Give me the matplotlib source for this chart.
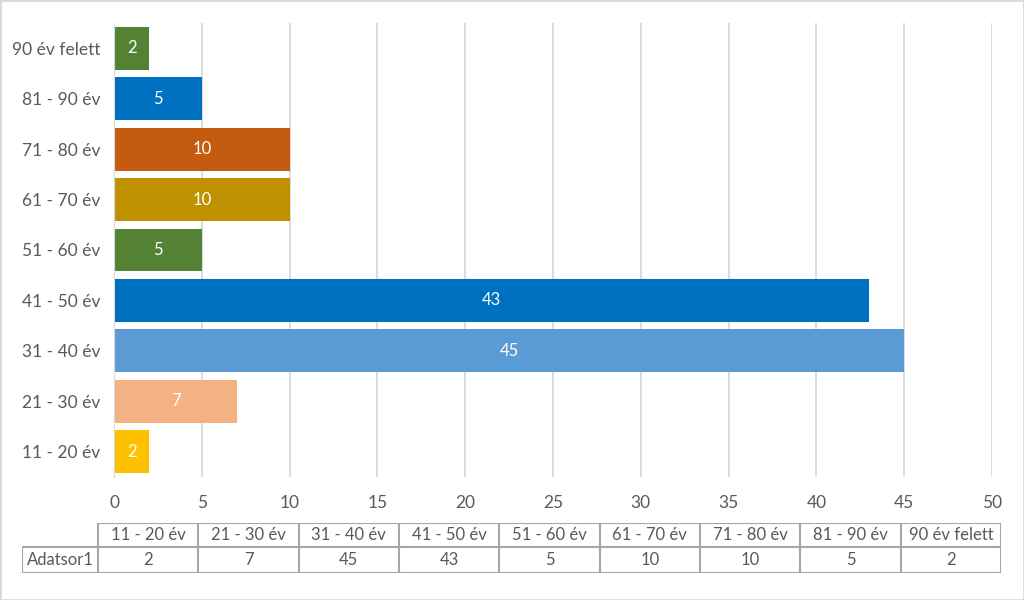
import matplotlib.pyplot as plt
from matplotlib.patches import Rectangle

categories = ["11 - 20 év", "21 - 30 év", "31 - 40 év", "41 - 50 év", "51 - 60 év",
              "61 - 70 év", "71 - 80 év", "81 - 90 év", "90 év felett"]
values = [2, 7, 45, 43, 5, 10, 10, 5, 2]
colors = ["#FFC000", "#F4B183", "#5B9BD5", "#0070C0", "#548235",
          "#BF9000", "#C55A11", "#0070C0", "#548235"]
series_name = "Adatsor1"

plt.rcParams['font.family'] = ['Lato', 'DejaVu Sans']
text_color = "#595959"
grid_color = "#D9D9D9"

fig = plt.figure(figsize=(10.24, 6), dpi=100)
fig.patches.append(Rectangle((0, 0), 1, 1, transform=fig.transFigure, fill=False,
                             edgecolor=grid_color, linewidth=2))
axis = fig.add_axes([114 / 1024, 1 - 477 / 600, 878 / 1024, 454 / 600])

y = range(len(categories))
bars = axis.barh(y, values, height=0.85, color=colors)
for bar, v in zip(bars, values):
    axis.text(v / 2, bar.get_y() + bar.get_height() / 2, str(v), ha="center", va="center",
              color="white", fontsize=12)

axis.set_xlim(0, 50)
axis.set_ylim(-0.5, len(categories) - 0.5)
axis.set_xticks(range(0, 51, 5))
axis.set_yticks(list(y))
axis.set_yticklabels(categories)
axis.grid(axis="x", color=grid_color, linewidth=1.3)
axis.set_axisbelow(True)
for s in ["top", "right", "bottom"]:
    axis.spines[s].set_visible(False)
axis.spines["left"].set_color(grid_color)
axis.tick_params(length=0, labelsize=12.5, colors=text_color, pad=10)
axis.tick_params(axis="x", pad=13)

# data table below the chart
tab = fig.add_axes([22 / 1024, 1 - 573 / 600, 979 / 1024, 50 / 600])
tab.set_xlim(22, 1001)
tab.set_ylim(573, 523)
tab.axis("off")
x0 = 98
cw = (1001 - x0) / len(categories)
lc = "#A6A6A6"
tab.plot([x0, 1001], [523, 523], color=lc, lw=1.5)
tab.plot([22, 1001], [547, 547], color=lc, lw=1.5)
tab.plot([22, 1001], [573, 573], color=lc, lw=1.5)
tab.plot([22, 22], [547, 573], color=lc, lw=1.5)
for i in range(len(categories) + 1):
    tab.plot([x0 + i * cw] * 2, [523, 573], color=lc, lw=1.5)
tab.text((22 + x0) / 2, 560, series_name, ha="center", va="center", color=text_color, fontsize=12)
for i, (c, v) in enumerate(zip(categories, values)):
    cx = x0 + (i + 0.5) * cw
    tab.text(cx, 535, c, ha="center", va="center", color=text_color, fontsize=12)
    tab.text(cx, 560, str(v), ha="center", va="center", color=text_color, fontsize=12)

fig.savefig("out.png", dpi=100)
